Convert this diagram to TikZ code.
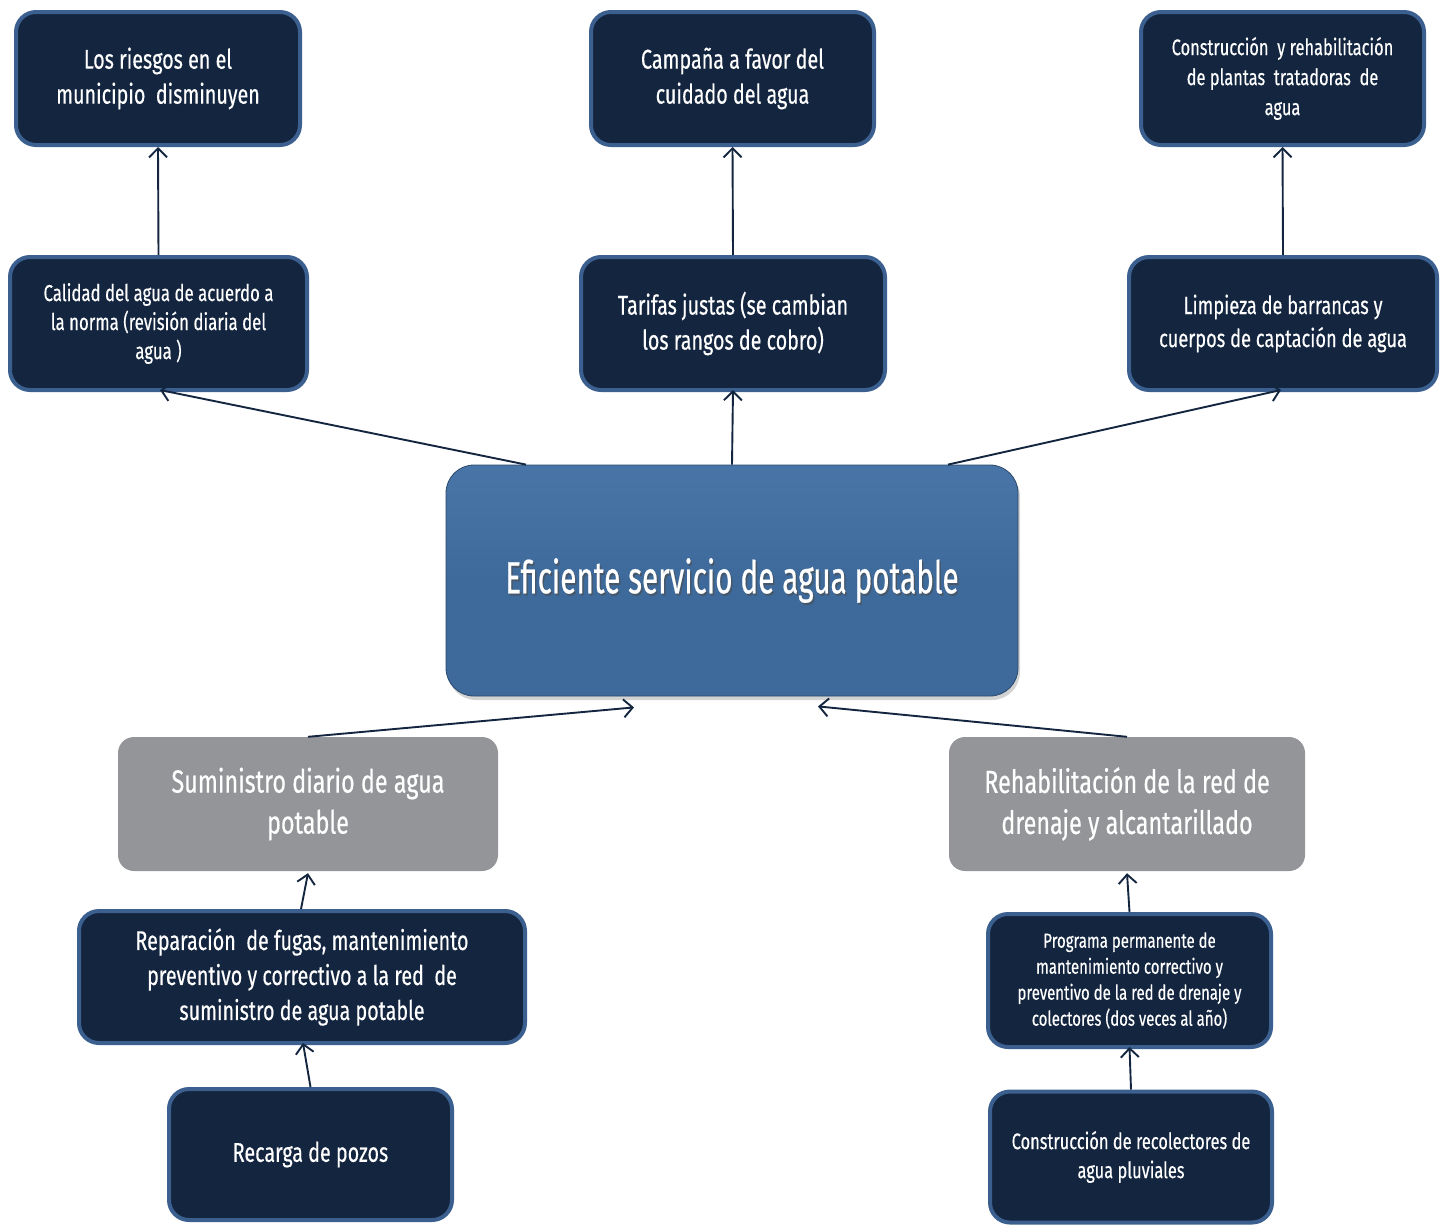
\documentclass[tikz,border=0pt]{standalone}
\usepackage{fontspec}
\setmainfont[FakeStretch=0.73,FakeBold=0.4]{Fira Sans}
\newfontfamily\cenfont[FakeStretch=0.66,FakeBold=0.4]{Fira Sans}
\usetikzlibrary{arrows.meta,shadows,calc}
\definecolor{navy}{HTML}{13253F}
\definecolor{rim}{HTML}{3B5F8E}
\definecolor{cblue}{HTML}{3E6A9B}
\definecolor{cblueTop}{HTML}{4874A7}
\definecolor{gbox}{HTML}{939598}
\tikzset{
  darkbox/.style={draw=rim, line width=4pt, fill=navy, rounded corners=20pt,
    text=white, align=center, inner sep=0pt},
  graybox/.style={fill=gbox, rounded corners=16pt, text=white, align=center, inner sep=0pt},
  centralbox/.style={rounded corners=28pt, top color=cblueTop, bottom color=cblue, middle color=cblue,
    draw=cblue!70!black, line width=0.8pt, drop shadow={shadow xshift=2pt, shadow yshift=-4pt, opacity=0.35}},
  arr/.style={draw=navy, line width=1.9pt, -{Straight Barb[length=9pt,width=18pt,line width=1.9pt]}},
}
\begin{document}
\begin{tikzpicture}[x=1pt,y=-1pt]
\useasboundingbox (0,0) rectangle (1447,1224);
% top row
\node[darkbox, minimum width=284pt, minimum height=133pt, font=\fontsize{27}{35}\selectfont] (los) at (158,78.5) {Los riesgos en el\\municipio\ \ disminuyen};
\node[darkbox, minimum width=283pt, minimum height=133pt, font=\fontsize{27}{35}\selectfont] (cam) at (732.5,78.5) {Campaña a favor del\\cuidado del agua};
\node[darkbox, minimum width=283pt, minimum height=133pt, font=\fontsize{22.5}{30}\selectfont] (con) at (1282.5,78.5) {Construcción\ \ y rehabilitación\\de plantas\ \ tratadoras\ \ de\\agua};
% second row
\node[darkbox, minimum width=297pt, minimum height=133pt, font=\fontsize{23}{29}\selectfont] (cal) at (158.5,323.5) {Calidad del agua de acuerdo a\\la norma (revisión diaria del\\agua )};
\node[darkbox, minimum width=304pt, minimum height=133pt, font=\fontsize{27}{35}\selectfont] (tar) at (733,323.5) {Tarifas justas (se cambian\\los rangos de cobro)};
\node[darkbox, minimum width=308pt, minimum height=133pt, font=\fontsize{25}{33}\selectfont] (lim) at (1283,323.5) {Limpieza de barrancas y\\cuerpos de captación de agua};
% central
\node[centralbox, minimum width=572pt, minimum height=231pt] (cen) at (732,580.5) {};
\node[text=black!70, opacity=0.6, font=\cenfont\fontsize{45}{52}\selectfont] at ([xshift=1.5pt,yshift=-2pt]cen.center) {Eficiente servicio de agua potable};
\node[text=white, font=\cenfont\fontsize{45}{52}\selectfont] (centxt) at (cen.center) {Eficiente servicio de agua potable};
% gray
\node[graybox, minimum width=380pt, minimum height=134pt, font=\fontsize{32}{41}\selectfont] (sum) at (308,804) {Suministro diario de agua\\potable};
\node[graybox, minimum width=356pt, minimum height=134pt, font=\fontsize{32}{41}\selectfont] (reh) at (1127,804) {Rehabilitación de la red de\\drenaje y alcantarillado};
% lower
\node[darkbox, minimum width=446pt, minimum height=132pt, font=\fontsize{27}{35}\selectfont] (rep) at (302,977) {Reparación\ \ de fugas, mantenimiento\\preventivo y correctivo a la red\ \ de\\suministro de agua potable};
\node[darkbox, minimum width=283pt, minimum height=133pt, font=\fontsize{20.5}{26}\selectfont] (pro) at (1129.5,980.5) {Programa permanente de\\mantenimiento correctivo y\\preventivo de la red de drenaje y\\colectores (dos veces al año)};
\node[darkbox, minimum width=283pt, minimum height=131pt, font=\fontsize{27}{35}\selectfont] (rec) at (310.5,1154.5) {Recarga de pozos};
\node[darkbox, minimum width=282pt, minimum height=131pt, font=\fontsize{22.5}{29}\selectfont] (crl) at (1131,1157) {Construcción de recolectores de\\agua pluviales};
% arrows
\draw[arr] (cal.north) -- (los.south);
\draw[arr] (tar.north) -- (cam.south);
\draw[arr] (lim.north) -- (con.south);
\draw[arr] ([xshift=-206pt]cen.north) -- ([xshift=1.5pt,yshift=2pt]cal.south);
\draw[arr] (cen.north) -- ([yshift=2pt]tar.south);
\draw[arr] ([xshift=216pt]cen.north) -- ([xshift=-2pt,yshift=2pt]lim.south);
\draw[arr] (sum.north) -- ([xshift=-98pt,yshift=-11pt]cen.south);
\draw[arr] (reh.north) -- ([xshift=86pt,yshift=-10pt]cen.south);
\draw[arr] ([xshift=-1pt]rep.north) -- ([yshift=-2pt]sum.south);
\draw[arr] (rec.north) -- ([xshift=1pt,yshift=2pt]rep.south);
\draw[arr] (pro.north) -- ([yshift=-2pt]reh.south);
\draw[arr] (crl.north) -- ([yshift=2pt]pro.south);
\end{tikzpicture}
\end{document}
